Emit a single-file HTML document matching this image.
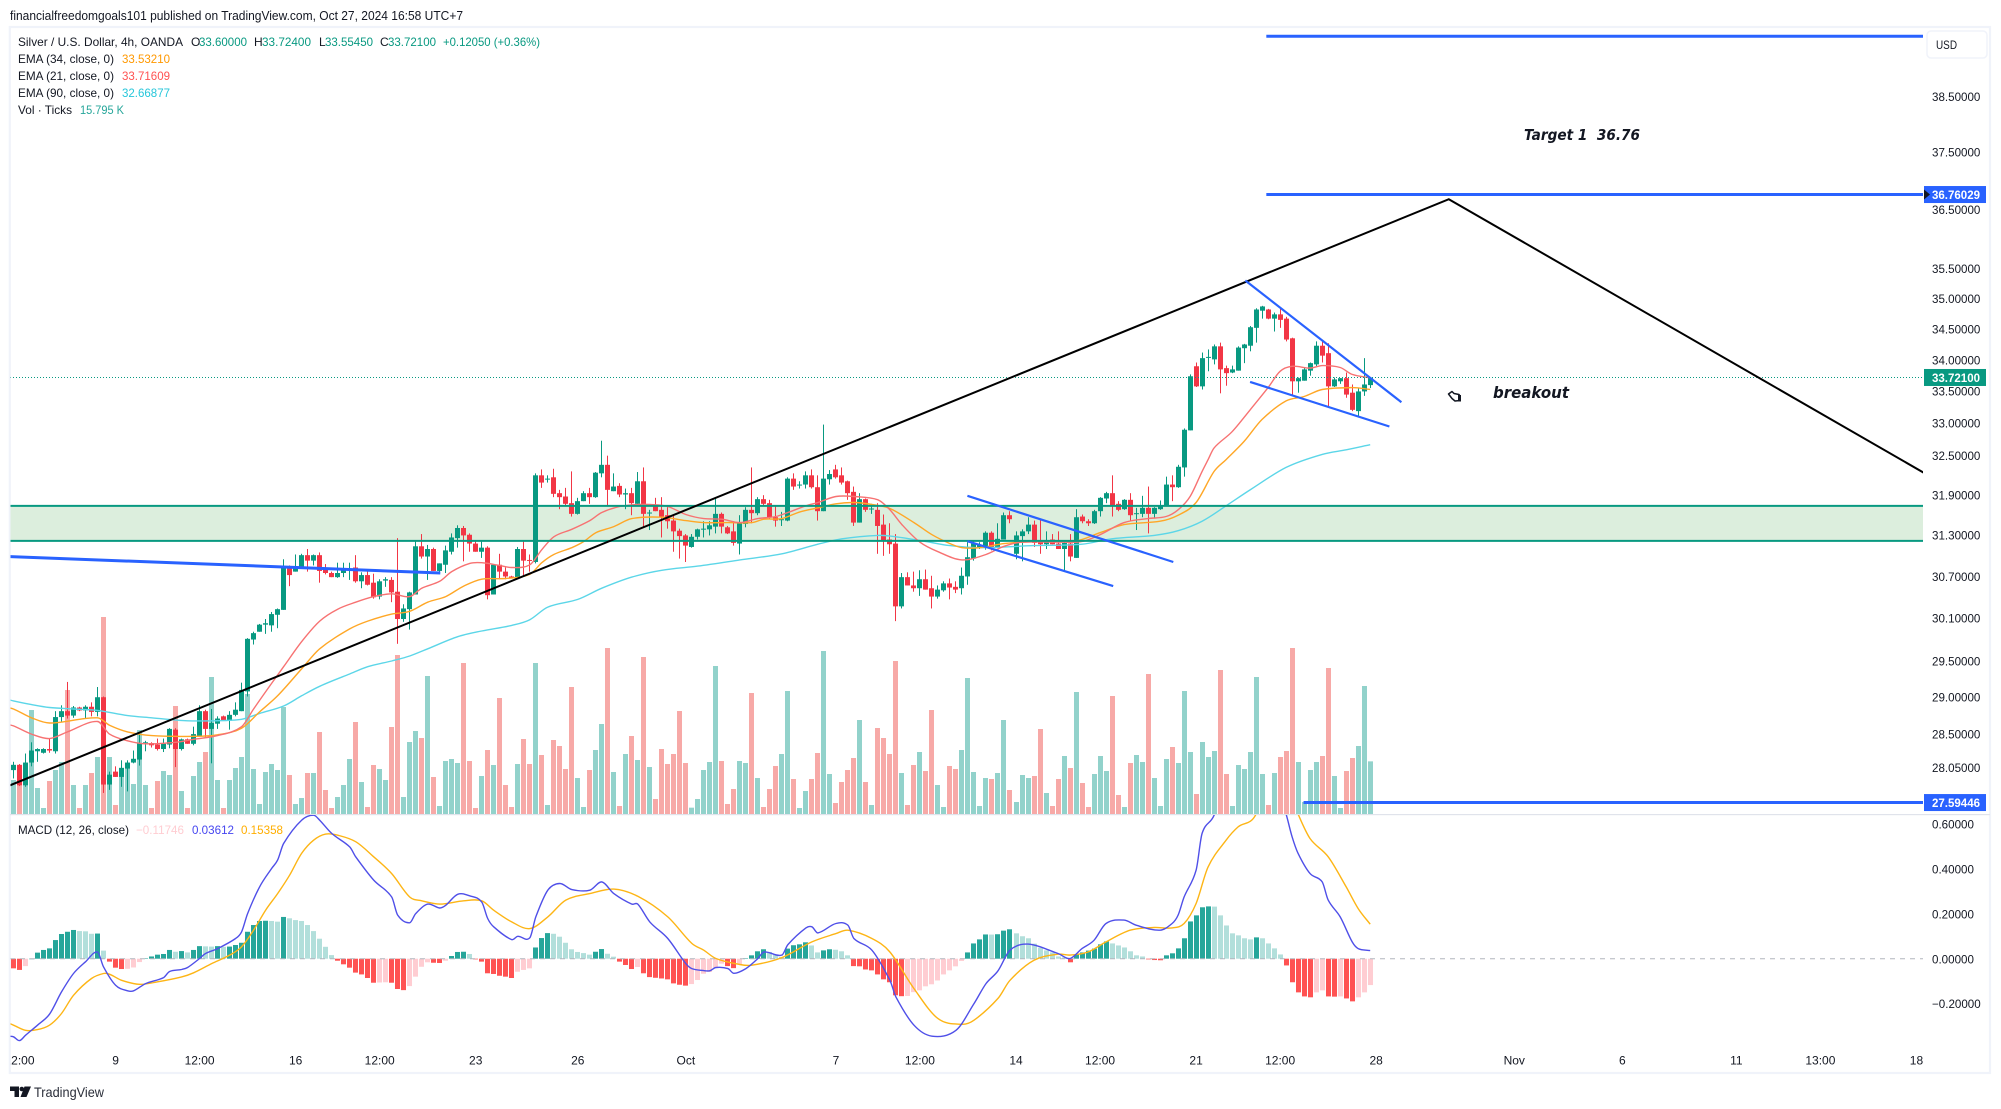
<!DOCTYPE html>
<html lang="en">
<head>
<meta charset="utf-8">
<title>Silver / U.S. Dollar 4h chart</title>
<style>
html,body{margin:0;padding:0;background:#fff;width:2001px;height:1109px;overflow:hidden}
svg{position:absolute;left:0;top:0;display:block}
text{font-family:"Liberation Sans",sans-serif;fill:#131722}
</style>
</head>
<body>
<svg id="chart" xmlns="http://www.w3.org/2000/svg" width="2001" height="1109" viewBox="0 0 2001 1109">
  <defs>
    <clipPath id="clip-main"><rect x="10.5" y="28" width="1912.5" height="786"/></clipPath>
    <clipPath id="clip-macd"><rect x="10.5" y="815" width="1912.5" height="230"/></clipPath>
    <clipPath id="clip-time"><rect x="10.5" y="1045" width="1978" height="27"/></clipPath>
  </defs>
  <rect x="0" y="0" width="2001" height="1109" fill="#ffffff"/>
  <text x="10" y="20" font-size="13" textLength="453" lengthAdjust="spacingAndGlyphs">financialfreedomgoals101 published on TradingView.com, Oct 27, 2024 16:58 UTC+7</text>
  <rect x="9.8" y="27" width="1980.2" height="1046" fill="#ffffff" stroke="#f0f3fa" stroke-width="2.2"/>

  <g id="volume-layer" clip-path="url(#clip-main)"></g>
  <g id="zone-layer" clip-path="url(#clip-main)"></g>
  <g id="candle-layer" clip-path="url(#clip-main)"></g>
  <g id="ema-layer" clip-path="url(#clip-main)"></g>
  <g id="drawing-layer" clip-path="url(#clip-main)"></g>

  <rect x="10" y="814" width="1980" height="1.2" fill="#e0e3eb"/>
  <g id="macd-layer" clip-path="url(#clip-macd)"></g>
  <g id="price-axis"></g>
  <g id="macd-axis"></g>
  <g id="time-axis" clip-path="url(#clip-time)"></g>

  <g font-size="12">
    <text x="18" y="46" font-size="12" textLength="165" lengthAdjust="spacingAndGlyphs">Silver / U.S. Dollar, 4h, OANDA</text>
    <text x="191" y="46" font-size="12">O</text>
    <text x="199" y="46" font-size="12" style="fill:#089981" textLength="48" lengthAdjust="spacingAndGlyphs">33.60000</text>
    <text x="254" y="46" font-size="12">H</text>
    <text x="262" y="46" font-size="12" style="fill:#089981" textLength="49" lengthAdjust="spacingAndGlyphs">33.72400</text>
    <text x="319" y="46" font-size="12">L</text>
    <text x="325" y="46" font-size="12" style="fill:#089981" textLength="48" lengthAdjust="spacingAndGlyphs">33.55450</text>
    <text x="380" y="46" font-size="12">C</text>
    <text x="388" y="46" font-size="12" style="fill:#089981" textLength="48" lengthAdjust="spacingAndGlyphs">33.72100</text>
    <text x="443" y="46" font-size="12" style="fill:#089981" textLength="97" lengthAdjust="spacingAndGlyphs">+0.12050 (+0.36%)</text>
    <text x="18" y="63" font-size="12" textLength="96" lengthAdjust="spacingAndGlyphs">EMA (34, close, 0)</text>
    <text x="122" y="63" font-size="12" style="fill:#ff9800" textLength="48" lengthAdjust="spacingAndGlyphs">33.53210</text>
    <text x="18" y="80" font-size="12" textLength="96" lengthAdjust="spacingAndGlyphs">EMA (21, close, 0)</text>
    <text x="122" y="80" font-size="12" style="fill:#ff5252" textLength="48" lengthAdjust="spacingAndGlyphs">33.71609</text>
    <text x="18" y="97" font-size="12" textLength="96" lengthAdjust="spacingAndGlyphs">EMA (90, close, 0)</text>
    <text x="122" y="97" font-size="12" style="fill:#26c6da" textLength="48" lengthAdjust="spacingAndGlyphs">32.66877</text>
    <text x="18" y="114" font-size="12" textLength="54" lengthAdjust="spacingAndGlyphs">Vol · Ticks</text>
    <text x="80" y="114" font-size="12" style="fill:#26a69a" textLength="44" lengthAdjust="spacingAndGlyphs">15.795 K</text>
    <text x="18" y="834" font-size="12" textLength="111" lengthAdjust="spacingAndGlyphs">MACD (12, 26, close)</text>
    <text x="136" y="834" font-size="12" style="fill:#ffcdd2" textLength="48" lengthAdjust="spacingAndGlyphs">−0.11746</text>
    <text x="192" y="834" font-size="12" style="fill:#4646f0" textLength="42" lengthAdjust="spacingAndGlyphs">0.03612</text>
    <text x="241" y="834" font-size="12" style="fill:#ffae00" textLength="42" lengthAdjust="spacingAndGlyphs">0.15358</text>
  </g>

  <text x="1524" y="140" font-size="15" font-weight="bold" font-style="italic" style="font-family:'DejaVu Sans',sans-serif;fill:#131722" textLength="116" lengthAdjust="spacingAndGlyphs" xml:space="preserve">Target 1  36.76</text>
  <text x="1493" y="398" font-size="16" font-weight="bold" font-style="italic" style="font-family:'DejaVu Sans',sans-serif;fill:#131722" textLength="76" lengthAdjust="spacingAndGlyphs">breakout</text>
  <g>
    <path d="M1448.5 394 L1452 391.5 L1454 393.5 L1459 394.5 L1460 396 L1460 400.5 L1455 401 L1452 398.5 Z" fill="#ffffff" stroke="#131722" stroke-width="1.5" stroke-linejoin="round"/>
    <rect x="1458" y="395" width="3" height="6.5" fill="#131722"/>
  </g>

  <rect x="1927" y="31" width="60" height="27" rx="4" fill="#ffffff" stroke="#f0f3fa" stroke-width="1.5"/>
  <text x="1936" y="49" font-size="12" textLength="21" lengthAdjust="spacingAndGlyphs">USD</text>

  <g>
    <path d="M10 1086.5 H19 V1097 H14.5 V1091 H10 Z M24.5 1086.5 H31 L26.5 1097 H20.5 Z" fill="#131722"/>
    <circle cx="21.8" cy="1089" r="2.3" fill="#131722"/>
    <text x="34" y="1097" font-size="14" style="fill:#2a2e39" textLength="70" lengthAdjust="spacingAndGlyphs">TradingView</text>
  </g>
</svg>

<script>
const opens = [28.02,28.09,27.82,28.12,28.27,28.25,28.30,28.27,28.73,28.81,
28.75,28.86,28.82,28.87,28.80,29.00,27.83,28.00,27.93,28.04,
28.12,28.16,28.38,28.38,28.36,28.30,28.36,28.56,28.30,28.43,
28.37,28.47,28.81,28.57,28.64,28.74,28.68,28.76,28.81,29.08,
29.80,29.91,30.01,30.00,30.15,30.22,30.85,30.77,30.83,31.01,
30.93,31.01,30.80,30.75,30.69,30.75,30.80,30.83,30.63,30.72,
30.61,30.41,30.64,30.65,30.48,30.09,30.23,30.44,31.14,30.99,
31.10,30.78,30.87,31.06,31.26,31.41,31.31,31.18,31.06,31.12,
30.44,30.87,30.77,30.70,30.67,31.10,30.94,30.91,32.20,32.14,
32.17,31.93,31.88,31.78,31.62,31.81,31.93,31.87,32.23,32.36,
31.96,32.04,31.91,31.93,31.77,32.11,31.63,31.75,31.68,31.60,
31.52,31.37,31.30,31.13,31.28,31.39,31.39,31.43,31.62,31.42,
31.36,31.18,31.47,31.68,31.63,31.84,31.78,31.57,31.53,31.52,
32.15,32.05,32.06,32.20,32.02,31.66,32.14,32.29,32.20,32.11,
31.95,31.49,31.84,31.69,31.68,31.46,31.24,31.18,30.27,30.69,
30.57,30.53,30.66,30.53,30.41,30.50,30.60,30.55,30.53,30.70,
30.96,31.13,31.13,31.34,31.13,31.24,31.60,31.03,31.29,31.36,
31.46,31.21,31.17,31.24,31.18,31.10,31.18,30.97,31.58,31.51,
31.48,31.66,31.85,31.93,31.77,31.69,31.83,31.62,31.62,31.71,
31.62,31.69,31.74,32.06,32.02,32.32,32.89,33.90,33.58,34.04,
34.01,34.22,33.87,33.80,33.83,34.19,34.23,34.52,34.80,34.82,
34.67,34.74,34.67,34.35,33.66,33.67,33.83,33.93,34.23,34.11,
33.58,33.66,33.71,33.48,33.19,33.50,33.60];
const highs = [28.13,28.10,28.24,28.39,28.31,28.31,28.44,28.81,28.89,29.21,
28.88,28.87,28.89,28.93,29.14,29.01,28.00,28.07,28.15,28.15,
28.28,28.53,28.41,28.39,28.44,28.44,28.58,28.58,28.44,28.44,
28.60,28.89,28.83,28.84,28.74,28.75,28.81,28.93,29.20,29.82,
29.91,30.02,30.09,30.19,30.24,30.95,30.86,31.02,31.03,31.10,
31.02,31.05,30.88,30.77,30.90,30.90,30.90,31.01,30.76,30.80,
30.74,30.66,30.69,30.69,31.26,30.30,30.48,31.21,31.32,31.16,
31.12,30.89,31.15,31.33,31.45,31.44,31.33,31.21,31.21,31.14,
30.88,31.03,30.83,30.71,31.13,31.21,31.02,32.23,32.29,32.20,
32.30,31.98,32.01,32.26,31.86,31.96,32.01,32.25,32.73,32.50,
32.23,32.08,32.00,32.01,32.25,32.32,31.68,31.86,31.87,31.72,
31.61,31.40,31.32,31.32,31.40,31.51,31.51,31.86,31.64,31.44,
31.51,31.60,31.72,32.32,31.87,31.90,31.83,31.74,31.65,32.17,
32.23,32.11,32.26,32.29,32.20,32.98,32.28,32.36,32.32,32.12,
32.03,31.93,31.85,31.77,31.78,31.61,31.48,31.32,30.75,30.76,
30.77,30.79,30.80,30.71,30.57,30.63,30.67,30.63,30.83,31.20,
31.21,31.20,31.36,31.36,31.48,31.64,31.66,31.36,31.39,31.57,
31.52,31.55,31.36,31.32,31.36,31.21,31.32,31.69,31.61,31.54,
31.68,31.87,31.95,32.20,31.81,31.84,31.93,31.71,31.89,32.03,
31.72,31.82,32.18,32.20,32.36,32.92,33.77,33.96,34.12,34.17,
34.25,34.28,33.91,33.91,34.22,34.26,34.55,34.84,34.88,34.83,
34.77,34.85,34.70,34.36,33.72,33.88,33.96,34.30,34.31,34.27,
33.72,33.71,33.80,33.61,33.55,34.03,33.724];
const lows = [27.91,27.81,27.80,28.07,28.13,28.24,28.25,28.24,28.66,28.71,
28.72,28.81,28.71,28.74,28.74,27.72,27.76,27.93,27.80,27.74,
28.11,28.08,28.27,28.32,28.28,28.26,28.31,28.06,28.28,28.37,
28.35,28.47,28.46,28.11,28.57,28.68,28.56,28.74,28.81,29.01,
29.73,29.91,29.88,29.91,29.96,30.22,30.56,30.77,30.83,30.77,
30.86,30.61,30.73,30.69,30.68,30.69,30.65,30.61,30.53,30.57,
30.38,30.37,30.55,30.33,29.74,30.05,29.94,30.44,30.96,30.65,
30.78,30.75,30.75,31.02,31.12,30.92,31.06,31.06,30.97,30.37,
30.44,30.66,30.66,30.67,30.66,30.71,30.77,30.89,32.01,32.09,
31.87,31.69,31.75,31.58,31.61,31.81,31.77,31.86,32.17,31.75,
31.96,31.87,31.69,31.60,31.75,31.42,31.38,31.66,31.27,31.40,
31.06,30.96,30.91,31.12,31.24,31.27,31.30,31.33,31.33,31.32,
31.15,31.02,31.42,31.48,31.60,31.75,31.55,31.43,31.44,31.51,
31.98,32.00,32.00,32.00,31.52,31.66,32.06,32.15,32.06,31.83,
31.44,31.49,31.65,31.62,31.03,31.00,31.03,30.06,30.24,30.57,
30.48,30.42,30.51,30.24,30.38,30.48,30.37,30.46,30.44,30.58,
30.93,31.10,31.09,31.08,31.12,31.24,31.48,30.95,30.92,31.32,
31.13,31.03,31.10,31.17,31.10,30.77,30.92,30.97,31.48,31.44,
31.47,31.58,31.78,31.58,31.66,31.68,31.52,31.38,31.57,31.33,
31.55,31.68,31.73,31.81,32.01,32.18,32.89,33.57,33.53,33.82,
33.93,33.47,33.59,33.79,33.83,33.95,34.14,34.28,34.67,34.66,
34.46,34.52,34.30,33.43,33.48,33.67,33.75,33.90,33.96,33.24,
33.57,33.62,33.40,33.19,33.09,33.43,33.5545];
const closes = [28.09,27.82,28.12,28.28,28.30,28.30,28.28,28.73,28.81,28.75,
28.86,28.82,28.87,28.80,29.00,27.83,27.96,27.93,28.05,28.12,
28.17,28.38,28.39,28.35,28.30,28.37,28.57,28.30,28.43,28.37,
28.50,28.81,28.57,28.65,28.71,28.68,28.76,28.83,29.10,29.81,
29.89,30.01,30.03,30.16,30.23,30.85,30.72,30.85,31.01,30.93,
31.01,30.78,30.75,30.69,30.75,30.80,30.81,30.63,30.72,30.58,
30.40,30.63,30.66,30.47,30.09,30.24,30.47,31.14,30.99,31.10,
30.78,30.89,31.08,31.27,31.41,31.30,31.18,31.06,31.12,30.43,
30.87,30.77,30.70,30.67,31.10,30.93,30.93,32.20,32.09,32.15,
31.92,31.87,31.77,31.62,31.81,31.93,31.87,32.24,32.36,31.98,
32.03,31.91,31.93,31.78,32.11,31.62,31.64,31.66,31.58,31.51,
31.36,31.29,31.15,31.28,31.39,31.40,31.45,31.62,31.43,31.33,
31.19,31.48,31.68,31.63,31.84,31.77,31.57,31.52,31.54,32.15,
32.03,32.06,32.20,32.02,31.66,32.15,32.22,32.17,32.09,31.93,
31.49,31.84,31.68,31.70,31.44,31.21,31.17,30.27,30.69,30.57,
30.53,30.66,30.51,30.41,30.51,30.60,30.54,30.51,30.71,30.98,
31.18,31.16,31.34,31.13,31.25,31.60,31.54,31.30,31.36,31.46,
31.19,31.17,31.21,31.17,31.10,31.19,30.99,31.57,31.51,31.48,
31.66,31.86,31.93,31.74,31.68,31.83,31.60,31.63,31.71,31.62,
31.71,31.74,32.06,32.02,32.33,32.90,33.74,33.58,34.03,34.05,
34.22,33.85,33.79,33.85,34.20,34.25,34.53,34.82,34.87,34.67,
34.74,34.65,34.33,33.66,33.71,33.85,33.95,34.23,34.07,33.58,
33.69,33.71,33.45,33.21,33.50,33.61,33.721];
const volumes = [10.2,10,10,31.2,7.8,1.8,9.9,13.2,15.6,37.2,
8.7,1.8,8.7,12.3,17.1,59.1,17.1,2.7,13.2,15,
9,25.2,8.7,1.8,9.9,12.9,11.7,32.4,6.9,1.8,
11.4,15.6,18.6,41.1,10.2,1.8,10.2,13.8,17.1,36,
13.5,3,12.6,15,13.2,32.1,11.7,3,4.8,12.3,
12.3,24.6,7.2,1.8,5.1,8.7,16.5,27.6,9.6,2.1,
14.7,13.5,10.2,26.1,47.7,5.1,21.6,24.9,22.8,41.4,
11.1,2.4,15.9,16.5,15.3,45.3,15.9,1.8,11.4,19.2,
14.7,34.8,8.7,2.1,15,22.5,15,45.3,17.7,2.7,
22.2,20.4,13.5,38.1,10.8,2.1,13.2,19.2,27,49.8,
12.6,2.4,18,23.4,16.2,47.1,14.1,4.5,19.5,15,
18,30.9,15.3,1.9,4.5,13.2,15.6,44.4,15.9,3,
7.5,15.9,15.3,36.3,10.8,2.1,7.5,14.4,18,36.9,
10.5,1.8,6.9,10.5,18.3,48.9,12,3.3,9.6,13.2,
16.8,28.2,9.6,2.7,25.8,22.8,18,45.9,12.3,2.7,
14.7,18.6,12.9,31.2,8.7,2.1,14.4,13.5,19.2,40.8,
12.6,2.4,10.8,10.5,12.3,28.2,7.2,3.6,11.7,10.8,
11.4,25.5,6.3,2.4,10.5,17.4,13.8,36.6,9.3,2.1,
12,17.4,12.9,35.4,5.7,2.1,15.3,17.7,15.6,42,
10.8,2.4,16.5,20.1,15.3,36.9,18.6,6,21.6,17.1,
18.9,43.2,12,2.4,14.7,13.5,18.6,41.1,12,2.7,
12.3,17.1,18.9,49.8,15.6,3.6,13.2,15.6,17.4,43.8,
11.4,1.8,12.9,16.8,20.4,38.4,15.795];

const ema21Bars = [-1,0,3,6,9,14,16,19,22,27,30,34,38,40,43,45,48,51,54,57,60,63,66,68,71,73,76,78,81,83,86,88,90,93,96,98,101,104,106,109,112,115,118,121,124,127,129,132,134,137,140,144,146,148,151,154,158,162,165,168,175,178,181,185,189,192,194,196,198,199,200,203,206,209,211,213,216,218,221,223,226];
const ema21Values = [28.63,28.61,28.50,28.44,28.53,28.67,28.50,28.41,28.37,28.39,28.43,28.48,28.60,28.84,29.19,29.42,29.77,30.06,30.23,30.33,30.41,30.45,30.41,30.53,30.63,30.77,30.89,30.90,30.86,30.83,30.87,31.09,31.28,31.39,31.52,31.64,31.73,31.76,31.76,31.73,31.61,31.55,31.54,31.49,31.55,31.58,31.64,31.74,31.79,31.88,31.88,31.83,31.68,31.46,31.20,31.06,30.94,31.02,31.14,31.20,31.20,31.21,31.31,31.49,31.55,31.58,31.68,31.88,32.26,32.44,32.62,32.87,33.21,33.56,33.82,33.90,33.87,33.91,33.88,33.77,33.716];
const ema34Bars = [-1,0,3,6,14,16,19,23,30,34,38,41,44,48,51,56,59,63,66,69,72,75,78,82,86,88,90,93,95,97,100,103,108,112,115,119,123,125,128,131,134,137,140,143,146,150,153,156,158,161,165,170,177,181,185,191,194,197,200,202,205,208,212,215,218,223,226];
const ema34Values = [28.86,28.84,28.72,28.65,28.72,28.62,28.53,28.48,28.47,28.49,28.58,28.80,29.02,29.39,29.67,29.95,30.06,30.16,30.20,30.33,30.41,30.56,30.66,30.67,30.73,30.90,31.02,31.12,31.21,31.34,31.43,31.55,31.57,31.52,31.49,31.49,31.49,31.54,31.55,31.65,31.71,31.77,31.79,31.76,31.70,31.49,31.31,31.18,31.12,31.12,31.18,31.21,31.22,31.34,31.46,31.51,31.60,31.79,32.26,32.44,32.72,33.06,33.35,33.42,33.53,33.56,33.532];
const ema90Bars = [-1,0,3,6,10,14,19,23,29,33,38,41,45,48,51,56,59,63,66,69,74,78,83,86,89,94,98,103,108,114,121,128,134,138,144,147,152,156,161,170,178,183,190,194,198,202,206,212,218,222,226];
const ema90Values = [28.97,28.95,28.90,28.86,28.84,28.82,28.75,28.72,28.68,28.68,28.70,28.78,28.88,29.02,29.15,29.32,29.42,29.50,29.57,29.67,29.84,29.92,30.00,30.08,30.26,30.37,30.53,30.69,30.79,30.85,30.94,31.03,31.17,31.25,31.30,31.28,31.21,31.15,31.12,31.15,31.17,31.25,31.30,31.37,31.51,31.74,31.98,32.32,32.52,32.59,32.669];

const macdHistogram = [-.043,-.050,-.033,0,.027,.039,.046,.083,.110,.120,
.128,.123,.122,.111,.112,.036,-.013,-.040,-.046,-.045,
-.039,-.015,.001,.010,.018,.021,.039,.031,.034,.028,
.039,.056,.055,.054,.056,.053,.054,.061,.071,.120,
.150,.168,.169,.168,.165,.186,.180,.172,.168,.150,
.123,.089,.053,.016,-.009,-.025,-.040,-.062,-.070,-.086,
-.107,-.106,-.105,-.107,-.135,-.140,-.122,-.080,-.036,-.016,
-.018,-.019,-.009,.012,.030,.031,.021,-.003,-.013,-.065,
-.068,-.076,-.080,-.086,-.058,-.050,-.043,.050,.092,.114,
.111,.098,.071,.042,.030,.025,.018,.031,.043,.022,
.009,-.013,-.028,-.046,-.037,-.065,-.082,-.085,-.088,-.092,
-.110,-.116,-.120,-.113,-.095,-.067,-.059,-.040,-.022,-.033,
-.042,-.025,.002,.015,.033,.042,.030,.019,.008,.045,
.060,.064,.073,.059,.028,.037,.042,.040,.033,.015,
-.033,-.034,-.048,-.052,-.070,-.092,-.105,-.163,-.167,-.166,
-.149,-.141,-.123,-.114,-.097,-.070,-.052,-.034,-.010,.028,
.068,.086,.108,.1075,.109,.125,.131,.113,.100,.091,
.067,.049,.037,.028,.010,.006,-.016,.019,.028,.036,
.045,.064,.077,.068,.059,.050,.033,.015,.010,-.003,
-.006,-.007,.015,.024,.046,.091,.166,.193,.229,.233,
.232,.193,.148,.113,.104,.091,.086,.095,.091,.068,
.046,.019,-.030,-.105,-.150,-.168,-.172,-.150,-.141,-.168,
-.169,-.168,-.177,-.190,-.172,-.150,-.11746];
const macdBars = [-1,0,1,2,4,6,8,10,12,14,15,17,19,20,22,25,26,28,29,31,32,34,37,38,39,41,43,44,45,48,50,51,53,56,57,60,63,64,66,67,69,71,72,74,76,78,79,80,83,84,86,87,89,91,93,96,98,100,103,104,106,109,112,113,115,116,117,119,120,122,124,125,128,129,132,133,134,137,139,140,143,146,147,150,153,157,160,162,164,166,169,174,176,178,180,182,185,187,191,193,194,195,197,198,200,202,206,209,212,213,214,216,218,219,221,223,224,226];
const macdValues = [-.345,-.348,-.365,-.341,-.296,-.247,-.148,-.066,-.014,.030,-.036,-.118,-.143,-.143,-.111,-.084,-.057,-.048,-.039,.001,.023,.045,.090,.120,.201,.320,.402,.439,.513,.617,.639,.617,.558,.498,.454,.350,.275,.194,.160,.201,.243,.226,.238,.287,.280,.253,.179,.142,.085,.100,.093,.186,.305,.335,.308,.305,.342,.290,.243,.243,.164,.090,-.022,-.044,-.053,-.054,-.039,-.044,-.065,-.044,.001,.030,.016,.063,.137,.142,.115,.157,.149,.090,.038,-.096,-.170,-.296,-.345,-.319,-.200,-.111,-.054,.038,.065,.023,.001,.045,.082,.157,.172,.149,.127,.157,.194,.275,.394,.558,.639,.81,.944,.90,.644,.543,.469,.379,.342,.261,.186,.075,.045,.03612];
const signalBars = [-1,0,2,4,6,8,10,13,15,16,18,21,24,28,30,33,36,38,40,42,44,46,48,50,52,54,57,60,63,66,68,71,75,78,80,83,86,89,92,96,100,104,109,113,115,117,121,123,128,133,137,139,143,146,150,154,158,160,164,166,170,174,176,179,182,186,190,193,195,197,199,202,204,207,210,214,216,219,222,224,226];
const signalValues = [-.285,-.296,-.319,-.316,-.296,-.244,-.163,-.088,-.066,-.069,-.096,-.114,-.103,-.081,-.063,-.022,.016,.053,.127,.216,.290,.372,.469,.528,.555,.550,.521,.454,.379,.275,.258,.243,.258,.258,.216,.164,.134,.186,.261,.290,.310,.278,.186,.068,.038,.001,-.026,-.029,.005,.075,.112,.127,.090,.030,-.133,-.267,-.292,-.274,-.177,-.096,-.007,.020,.016,.030,.075,.127,.139,.137,.157,.246,.409,.528,.587,.644,.90,.644,.535,.454,.320,.223,.15358];

const priceTicks = [38.5,37.5,36.5,35.5,35,34.5,34,33.5,33,32.5,31.9,31.3,30.7,30.1,29.5,29,28.5,28.05];
const macdTicks = [0.6,0.4,0.2,0,-0.2];
const timeLabels = ["12:00","9","12:00","16","12:00","23","26","Oct","7","12:00","14","12:00","21","12:00","28","Nov","6","11","13:00","18"];
const timeBars = [1,17,31,47,61,77,94,112,137,151,167,181,197,211,227,250,268,287,301,317];

const lastPrice = 33.721;
const targetLevels = [39.61,36.76029];
const targetStartBars = [208.7,208.7];
const stopLevel = 27.59446;
const stopStartBar = 214.9;
const axisEndBar = 318.2;
const zonePrices = [31.74,31.22];
const zoneBars = [-1,318.2];
const trendBars = [-0.9,239.1,318.2];
const trendPrices = [27.81,36.68,32.24];
const resistanceBars = [-0.9,71.1];
const resistancePrices = [30.99,30.75];
const flagOneUpperBars = [158.9,193.2];
const flagOneUpperPrices = [31.89,30.91];
const flagOneLowerBars = [158.9,183.2];
const flagOneLowerPrices = [31.215,30.56];
const flagTwoUpperBars = [205.2,231.2];
const flagTwoUpperPrices = [35.30,33.33];
const flagTwoLowerBars = [206,229.2];
const flagTwoLowerPrices = [33.65,32.95];

const NS = 'http://www.w3.org/2000/svg';
const xOf = i => 13.5 + 6.003 * i;
const yPrice = p => 96.5 + (Math.log(38.5) - Math.log(p)) * 2120;
const yVolume = v => 814 - v * 10 / 3;
const yMacd = v => 958.7 - 224.5 * v;

function make(tag, attrs, parent) {
  const node = document.createElementNS(NS, tag);
  for (const key in attrs) node.setAttribute(key, attrs[key]);
  parent.appendChild(node);
  return node;
}
function linePoints(bars, values, yFn) {
  const n = Math.min(bars.length, values.length);
  const pts = [];
  for (let k = 0; k < n; k++) pts.push(xOf(bars[k]).toFixed(1) + ',' + yFn(values[k]).toFixed(1));
  return pts.join(' ');
}
function smoothPath(bars, values, yFn) {
  const n = Math.min(bars.length, values.length);
  const px = [], py = [];
  for (let k = 0; k < n; k++) { px.push(xOf(bars[k])); py.push(yFn(values[k])); }
  let d = 'M' + px[0].toFixed(1) + ' ' + py[0].toFixed(1);
  for (let k = 0; k < n - 1; k++) {
    const a = Math.max(0, k - 1), b = Math.min(n - 1, k + 2);
    const dx = (px[k + 1] - px[k]) / 3;
    const s0 = (py[k + 1] - py[a]) / (px[k + 1] - px[a]);
    const s1 = (py[b] - py[k]) / (px[b] - px[k]);
    d += ' C' + (px[k] + dx).toFixed(1) + ' ' + (py[k] + s0 * dx).toFixed(1) + ' ' +
         (px[k + 1] - dx).toFixed(1) + ' ' + (py[k + 1] - s1 * dx).toFixed(1) + ' ' +
         px[k + 1].toFixed(1) + ' ' + py[k + 1].toFixed(1);
  }
  return d;
}
const GREEN = '#089981', RED = '#f23645';

const volumeLayer = document.getElementById('volume-layer');
volumes.forEach((v, i) => {
  const left = Math.round(xOf(i) - 2.5);
  const top = yVolume(v);
  const el = make('rect', {x: left, y: top, width: 5, height: 814 - top, fill: closes[i] >= opens[i] ? '#92d2cb' : '#f7a9a7'}, volumeLayer);
  
  
});

const zoneLayer = document.getElementById('zone-layer');
{
  const x1 = xOf(zoneBars[0]), x2 = xOf(zoneBars[1]);
  const y1 = yPrice(zonePrices[0]), y2 = yPrice(zonePrices[1]);
  const el = make('rect', {x: x1, y: y1, width: x2 - x1, height: y2 - y1, fill: '#dceedd'}, zoneLayer);
  
  
}

const candleLayer = document.getElementById('candle-layer');
opens.forEach((o, i) => {
  const c = closes[i];
  const col = c >= o ? GREEN : RED;
  const left = Math.round(xOf(i) - 2.5);
  const g = make('g', {}, candleLayer);
  
  
  const hi = yPrice(highs[i]), lo = yPrice(lows[i]);
  make('rect', {x: left + 2, y: hi, width: 1, height: Math.max(1, lo - hi), fill: col}, g);
  const top = yPrice(Math.max(o, c)), bot = yPrice(Math.min(o, c));
  make('rect', {x: left, y: top, width: 5, height: Math.max(1, bot - top), fill: col}, g);
});

const emaLayer = document.getElementById('ema-layer');
{
  const el = make('path', {d: smoothPath(ema90Bars, ema90Values, yPrice), fill: 'none', stroke: '#5cd6e8', 'stroke-width': 1.4}, emaLayer);
  
  
}
{
  const el = make('path', {d: smoothPath(ema34Bars, ema34Values, yPrice), fill: 'none', stroke: '#ffa726', 'stroke-width': 1.4}, emaLayer);
  
  
}
{
  const el = make('path', {d: smoothPath(ema21Bars, ema21Values, yPrice), fill: 'none', stroke: '#f77272', 'stroke-width': 1.4}, emaLayer);
  
  
}

const drawingLayer = document.getElementById('drawing-layer');
{
  const y = yPrice(lastPrice);
  const el = make('line', {x1: 10, x2: 1923, y1: y, y2: y, stroke: '#089981', 'stroke-width': 1, 'stroke-dasharray': '1 2'}, drawingLayer);
  
  
}
zonePrices.forEach(p => {
  const y = yPrice(p);
  const el = make('line', {x1: 10, x2: 1923, y1: y, y2: y, stroke: '#089981', 'stroke-width': 2}, drawingLayer);
  
  
});
targetLevels.forEach((p, k) => {
  const y = yPrice(p);
  const el = make('line', {x1: xOf(targetStartBars[k]), x2: xOf(axisEndBar), y1: y, y2: y, stroke: '#2962ff', 'stroke-width': 3}, drawingLayer);
  
  
});
{
  const y = yPrice(stopLevel);
  const el = make('line', {x1: xOf(stopStartBar), x2: xOf(axisEndBar), y1: y, y2: y, stroke: '#2962ff', 'stroke-width': 3}, drawingLayer);
  
  
}
{
  const el = make('polyline', {points: linePoints(trendBars, trendPrices, yPrice), fill: 'none', stroke: '#000000', 'stroke-width': 2, 'stroke-linejoin': 'miter'}, drawingLayer);
  
  
}
{
  const el = make('polyline', {points: linePoints(resistanceBars, resistancePrices, yPrice), fill: 'none', stroke: '#2962ff', 'stroke-width': 3}, drawingLayer);
  
  
}
{
  const el = make('polyline', {points: linePoints(flagOneUpperBars, flagOneUpperPrices, yPrice), fill: 'none', stroke: '#2962ff', 'stroke-width': 2.2}, drawingLayer);
  
  
}
{
  const el = make('polyline', {points: linePoints(flagOneLowerBars, flagOneLowerPrices, yPrice), fill: 'none', stroke: '#2962ff', 'stroke-width': 2.2}, drawingLayer);
  
  
}
{
  const el = make('polyline', {points: linePoints(flagTwoUpperBars, flagTwoUpperPrices, yPrice), fill: 'none', stroke: '#2962ff', 'stroke-width': 2.2}, drawingLayer);
  
  
}
{
  const el = make('polyline', {points: linePoints(flagTwoLowerBars, flagTwoLowerPrices, yPrice), fill: 'none', stroke: '#2962ff', 'stroke-width': 2.2}, drawingLayer);
  
  
}

const macdLayer = document.getElementById('macd-layer');
macdHistogram.forEach((v, i) => {
  const prev = i > 0 ? macdHistogram[i - 1] : v;
  let col;
  if (v >= 0) col = prev <= v ? '#26a69a' : '#b2dfdb';
  else col = prev < v ? '#ffcdd2' : '#ff5252';
  const y0 = yMacd(0), y1 = yMacd(v);
  const el = make('rect', {x: Math.round(xOf(i) - 2.5), y: Math.min(y0, y1), width: 5, height: Math.max(0.5, Math.abs(y1 - y0)), fill: col}, macdLayer);
  
  
});
{
  const y = yMacd(0);
  const el = make('line', {x1: 10, x2: 1923, y1: y, y2: y, stroke: '#b2b5be', 'stroke-width': 1, 'stroke-dasharray': '5 5'}, macdLayer);
  
  
}
{
  const el = make('path', {d: smoothPath(signalBars, signalValues, yMacd), fill: 'none', stroke: '#fdb515', 'stroke-width': 1.4}, macdLayer);
  
  
}
{
  const el = make('path', {d: smoothPath(macdBars, macdValues, yMacd), fill: 'none', stroke: '#4f4fe8', 'stroke-width': 1.4}, macdLayer);
  
  
}

const priceAxis = document.getElementById('price-axis');
priceTicks.forEach(p => {
  const el = make('text', {x: 1932, y: yPrice(p) + 4.3, 'font-size': 11.6}, priceAxis);
  
  
  el.textContent = p.toFixed(5);
});
function priceTag(price, fill, arrow) {
  const y = yPrice(price);
  const g = make('g', {}, priceAxis);
  make('rect', {x: 1924, y: y - 8.5, width: 62, height: 17, fill: fill}, g);
  if (arrow) make('polygon', {points: [1924, y - 5, 1930, y, 1924, y + 5].join(' '), fill: '#131722'}, g);
  const t = make('text', {x: 1932, y: y + 4.3, 'font-size': 11.6, 'font-weight': 'bold', style: 'fill:#ffffff', textLength: 48, lengthAdjust: 'spacingAndGlyphs'}, g);
  t.textContent = price.toFixed(5);
  return g;
}
{
  const el = priceTag(targetLevels[1], '#2962ff', true);
  
  
}
{
  const el = priceTag(lastPrice, '#089981', false);
  
  
}
{
  const el = priceTag(stopLevel, '#2962ff', false);
  
  
}

const macdAxis = document.getElementById('macd-axis');
macdTicks.forEach(v => {
  const el = make('text', {x: 1932, y: yMacd(v) + 4.6, 'font-size': 11.6}, macdAxis);
  
  
  el.textContent = (v < 0 ? '−' : '') + Math.abs(v).toFixed(5);
});

const timeAxis = document.getElementById('time-axis');
timeLabels.forEach((label, k) => {
  const el = make('text', {x: xOf(timeBars[k]), y: 1064.5, 'font-size': 12, 'text-anchor': 'middle'}, timeAxis);
  
  
  el.textContent = label;
});
</script>
</body>
</html>
